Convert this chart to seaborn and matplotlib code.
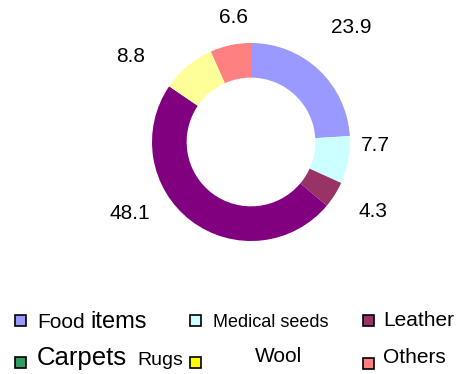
import numpy as np
import matplotlib
matplotlib.use('Agg')
import matplotlib.pyplot as plt
from matplotlib.patches import Rectangle
import seaborn as sns

sns.set_style('white')
plt.rcParams['font.family'] = ['Liberation Sans', 'DejaVu Sans']
plt.rcParams['text.color'] = 'black'

# data
categories = ['Food items', 'Medical seeds', 'Leather', 'Carpets Rugs', 'Wool', 'Others']
values = [23.9, 7.7, 4.3, 48.1, 8.8, 6.6]
slice_colors = ['#9999FF', '#CCFFFF', '#993366', '#800080', '#FFFF99', '#FF8080']
legend_colors = ['#9999FF', '#CCFFFF', '#993366', '#339966', '#FFFF00', '#FF8080']
value_labels = [f'{v:.1f}' for v in values]

W, H = 458, 374
fig = plt.figure(figsize=(W / 100, H / 100), dpi=100)

# pie centre at (251, 142) px, outer radius 99 px
cx, cy, R = 251, 142, 99
ax = fig.add_axes([0, 0, 1, 1])
wedges, texts = ax.pie(values, colors=slice_colors, startangle=90, counterclock=False,
                       labels=value_labels, labeldistance=1.3,
                       wedgeprops=dict(width=0.35, edgecolor='none', linewidth=0),
                       textprops=dict(fontsize=15, color='black'))
ax.set_aspect('auto')
ax.set_xlim(-cx / R, (W - cx) / R)
ax.set_ylim(-(H - cy) / R, cy / R)
ax.axis('off')

# label placement as in the original (Excel style, not uniform)
label_pos = [(1.01, 1.16), (1.26, -0.04), (1.23, -0.70), (-1.22, -0.72), (-1.22, 0.86), (-0.18, 1.26)]
for t, (x, y) in zip(texts, label_pos):
    t.set_position((x, y))
    t.set_ha('center')
    t.set_va('center')

# legend, drawn by hand to keep the mixed font sizes
def px(x, y):
    return x / W, 1 - y / H

swatch_xy = [(15, 315), (190, 315), (363, 315), (15, 357), (190, 357), (363, 358)]
legend_parts = [
    [('Food', 37, 15), ('items', 90, 17)],
    [('Medical seeds', 213, 13)],
    [('Leather', 383, 15)],
    [('Carpets', 37, 18.5), ('Rugs', 137, 14)],
    [('Wool', 255, 15)],
    [('Others', 383, 15)],
]
baselines = [328, 327, 326, 365, 362, 363]

for i, name in enumerate(categories):
    sx, sy = swatch_xy[i]
    x0, y0 = px(sx, sy + 11)
    fig.add_artist(Rectangle((x0, y0), 11 / W, 11 / H, transform=fig.transFigure,
                             facecolor=legend_colors[i], edgecolor='black', linewidth=1.2))
    for txt, tx, fs in legend_parts[i]:
        fx, fy = px(tx, baselines[i])
        fig.text(fx, fy, txt, fontsize=fs, ha='left', va='baseline', color='black')

plt.savefig('out.png', dpi=100)
plt.close()
